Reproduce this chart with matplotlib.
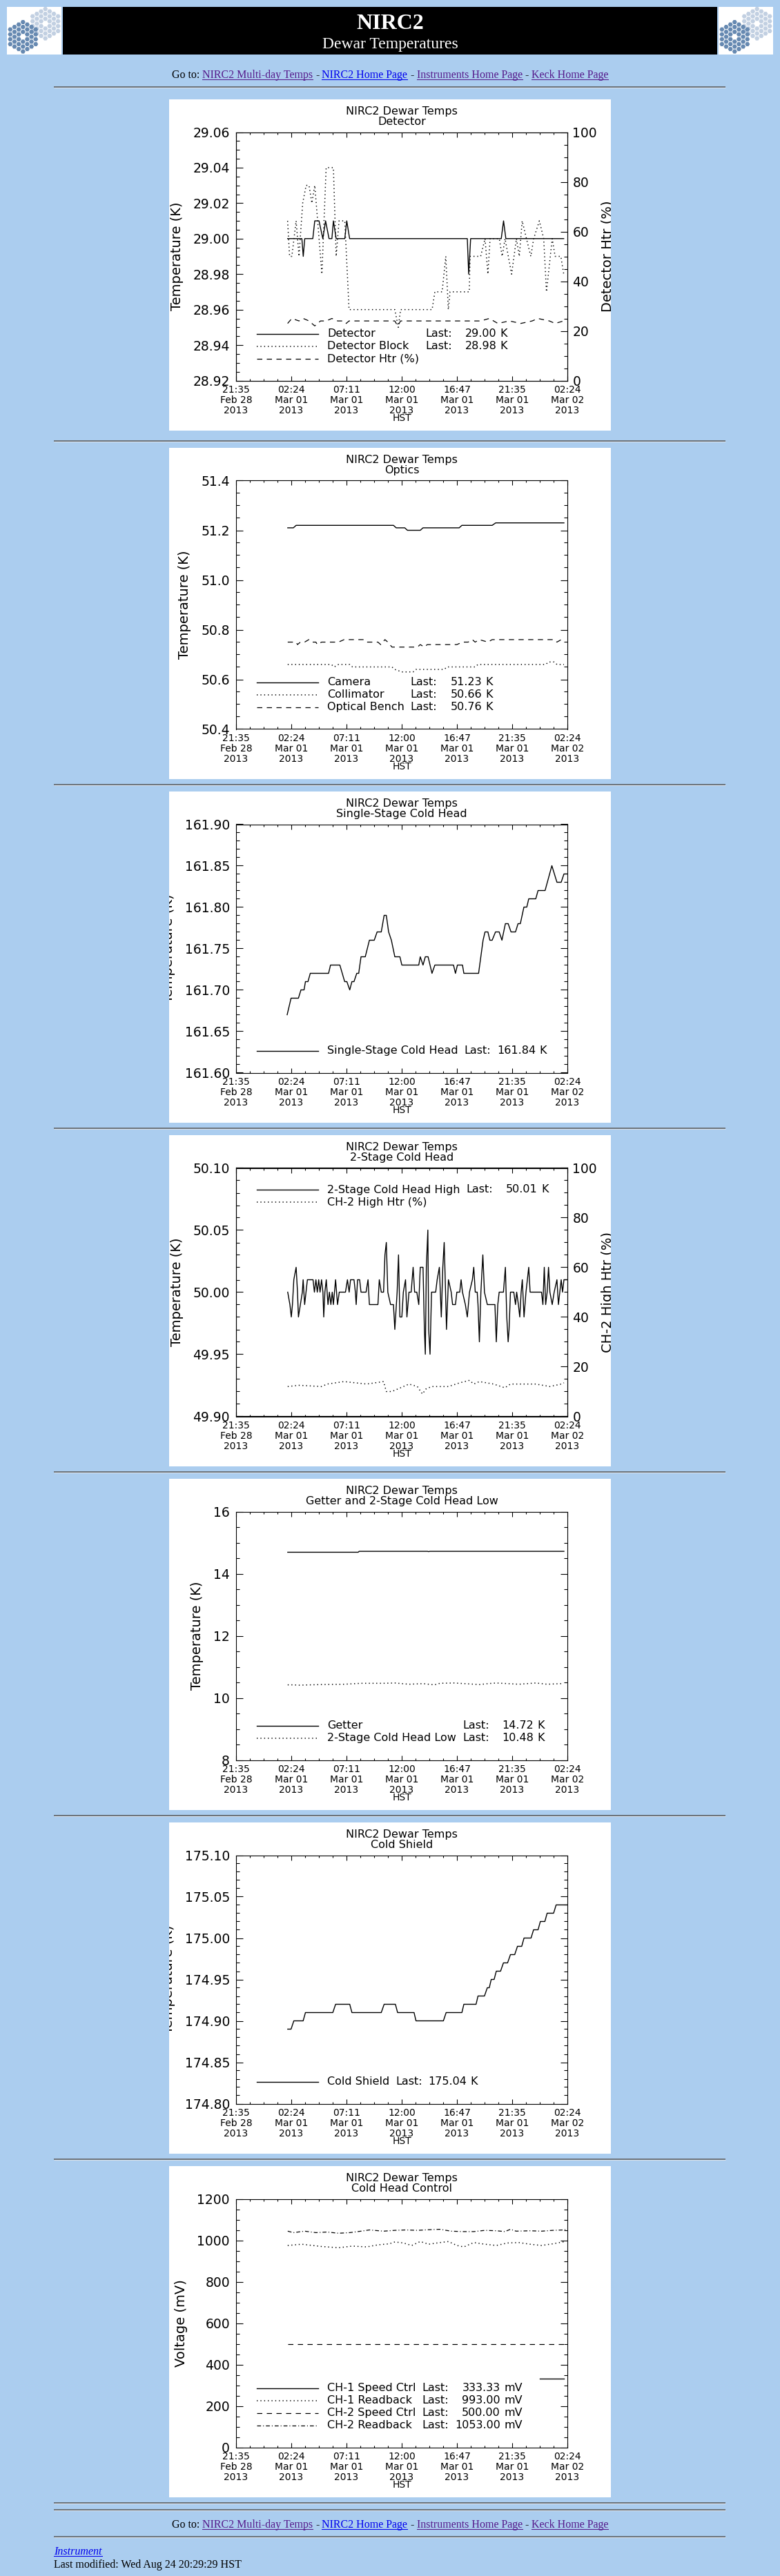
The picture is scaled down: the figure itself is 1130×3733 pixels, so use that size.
import numpy as np
import matplotlib
matplotlib.use("Agg")
import matplotlib.pyplot as plt
from matplotlib.patches import Rectangle, RegularPolygon
from matplotlib.ticker import MultipleLocator, FormatStrFormatter
from matplotlib.transforms import Bbox

W, H = 1130, 3733
PAGE_BLUE = "#ABCDEF"
LINK = "#0000EE"
VISITED = "#551A8B"
SERIF = "Liberation Serif"

plt.rcParams["font.family"] = "DejaVu Sans"

# shared time axis, hours after Feb 28 21:35 HST
x_ticks = [0, 4.8, 9.6, 14.4, 19.2, 24.0, 28.8]
x_tick_labels = ["21:35\nFeb 28\n2013", "02:24\nMar 01\n2013", "07:11\nMar 01\n2013",
                 "12:00\nMar 01\n2013", "16:47\nMar 01\n2013", "21:35\nMar 01\n2013",
                 "02:24\nMar 02\n2013"]

# --- Detector
det_t = [4.48, 5.72, 5.84, 5.97, 6.67, 6.84, 7.21, 7.54, 7.78, 8.08, 8.33, 8.46,
         8.70, 9.45, 9.62, 9.87, 20.10, 20.22, 20.39, 23.05, 23.25, 23.45, 28.48]
det_v = [29.00, 29.00, 28.99, 29.00, 29.00, 29.01, 29.01, 29.00, 29.01, 29.00, 29.00, 29.01,
         29.00, 29.00, 29.01, 29.00, 29.00, 28.98, 29.00, 29.00, 29.01, 29.00, 29.00]
blk_t = [4.48, 4.65, 4.85, 5.22, 5.47, 5.79, 6.09, 6.34, 6.59, 6.84,
         7.09, 7.46, 7.83, 8.46, 8.70, 8.95, 9.45, 9.82, 13.80, 14.10,
         14.30, 17.04, 17.28, 17.91, 18.23, 18.45, 18.60, 20.27, 20.34, 21.26,
         21.64, 21.89, 22.08, 22.88, 23.13, 23.38, 23.95, 24.37, 24.62, 24.87,
         25.24, 25.62, 25.87, 26.36, 26.74, 26.98, 27.48, 27.73, 28.23, 28.48]
blk_v = [29.01, 28.99, 28.99, 29.01, 28.99, 29.02, 29.03, 29.03, 29.02, 29.03,
         29.01, 28.98, 29.04, 29.04, 28.99, 29.01, 29.01, 28.96, 28.96, 28.95,
         28.96, 28.96, 28.97, 28.97, 28.99, 28.96, 28.97, 28.97, 28.99, 28.99,
         29.00, 28.98, 29.00, 29.00, 28.99, 29.00, 28.98, 29.00, 28.99, 29.01,
         29.00, 28.99, 29.00, 29.01, 29.00, 28.97, 29.00, 28.99, 28.99, 28.98]
dhtr_t = [4.48, 4.85, 5.47, 5.84, 6.34, 6.84, 7.34, 7.83, 8.33, 8.83, 9.33, 9.57, 9.82,
          13.80, 14.05, 14.30, 21.26, 22.01, 22.76, 23.75, 24.75, 25.74, 26.23, 27.23,
          27.73, 28.48]
dhtr_v = [23, 25, 24, 25, 24, 22, 24, 24, 25, 24, 24, 23, 24,
          24, 22, 24, 24, 25, 23, 24, 23, 24, 25, 24, 23, 24]

# --- Optics
cam_t = [4.49, 4.98, 5.22, 13.68, 13.92, 14.66, 14.90, 16.01, 16.25, 19.39, 19.63,
         22.26, 22.57, 28.50]
cam_v = [51.21, 51.21, 51.22, 51.22, 51.21, 51.21, 51.20, 51.20, 51.21, 51.21, 51.22,
         51.22, 51.23, 51.23]
col_t = [4.49, 8.28, 8.53, 8.90, 9.88, 10.12, 13.55, 13.80, 14.41, 15.39, 15.64, 18.09,
         18.33, 20.78, 21.03, 26.91, 27.16, 27.65, 27.89, 28.50]
col_v = [50.66, 50.66, 50.65, 50.66, 50.66, 50.65, 50.65, 50.64, 50.63, 50.63, 50.64, 50.64,
         50.65, 50.65, 50.66, 50.66, 50.67, 50.67, 50.66, 50.66]
ob_t = [4.49, 5.22, 5.34, 5.59, 5.96, 6.32, 6.57, 6.94, 7.06, 7.43, 8.65, 8.90,
        9.39, 11.10, 11.35, 12.33, 12.57, 12.94, 13.19, 13.55, 15.76, 16.01, 16.37, 16.62,
        19.19, 19.68, 20.17, 20.54, 20.78, 21.15, 21.89, 22.26, 27.65, 27.89, 28.26, 28.50]
ob_v = [50.75, 50.75, 50.74, 50.75, 50.75, 50.76, 50.75, 50.75, 50.74, 50.75, 50.75, 50.75,
        50.76, 50.76, 50.75, 50.75, 50.74, 50.76, 50.75, 50.73, 50.73, 50.74, 50.73, 50.74,
        50.74, 50.75, 50.75, 50.76, 50.75, 50.76, 50.75, 50.76, 50.76, 50.75, 50.76, 50.76]

# --- Single-stage cold head
ss_t = [4.44, 4.78, 5.42, 5.64, 5.91, 6.03, 6.25, 6.45, 8.04, 8.21,
        9.02, 9.44, 9.63, 9.88, 10.07, 10.25, 10.49, 10.66, 10.86, 11.23,
        11.59, 12.01, 12.26, 12.62, 12.87, 13.06, 13.26, 13.50, 13.80, 14.24,
        14.41, 15.88, 16.01, 16.25, 16.45, 16.69, 17.03, 17.28, 18.90, 19.07,
        19.24, 19.68, 19.80, 21.08, 21.47, 21.64, 21.89, 22.06, 22.26, 22.55,
        22.87, 23.11, 23.41, 23.65, 23.90, 24.29, 24.51, 24.71, 25.02, 25.27,
        25.44, 26.05, 26.25, 26.86, 27.45, 27.89, 28.26, 28.50, 28.75]
ss_v = [161.67, 161.69, 161.69, 161.70, 161.70, 161.71, 161.71, 161.72, 161.72, 161.73,
        161.73, 161.71, 161.71, 161.70, 161.71, 161.71, 161.72, 161.72, 161.74, 161.74,
        161.76, 161.76, 161.77, 161.77, 161.79, 161.79, 161.77, 161.76, 161.74, 161.74,
        161.73, 161.73, 161.74, 161.73, 161.74, 161.74, 161.72, 161.73, 161.73, 161.72,
        161.73, 161.73, 161.72, 161.72, 161.76, 161.77, 161.77, 161.76, 161.76, 161.77,
        161.77, 161.76, 161.78, 161.78, 161.77, 161.77, 161.78, 161.78, 161.80, 161.80,
        161.81, 161.81, 161.82, 161.82, 161.85, 161.83, 161.83, 161.84, 161.84]

# --- 2-stage cold head (high)
ch2_t = [4.49, 4.68, 4.80, 4.90, 5.02, 5.22, 5.34, 5.42, 5.59, 5.76,
         5.83, 5.96, 6.08, 6.20, 6.69, 6.81, 6.94, 7.06, 7.18, 7.30,
         7.43, 7.55, 7.62, 7.72, 7.84, 7.99, 8.11, 8.24, 8.36, 8.46,
         8.65, 8.82, 8.97, 9.51, 9.68, 9.83, 9.95, 10.25, 10.37, 10.44,
         10.56, 10.74, 10.86, 11.30, 11.47, 11.59, 12.33, 12.45, 12.62, 12.82,
         12.94, 13.06, 13.19, 13.43, 13.68, 13.80, 14.00, 14.12, 14.24, 14.41,
         14.54, 14.73, 14.85, 15.03, 15.22, 15.39, 15.52, 15.71, 15.88, 16.01,
         16.25, 16.37, 16.45, 16.54, 16.67, 16.74, 16.86, 16.99, 17.35, 17.48,
         17.67, 17.84, 17.97, 18.09, 18.21, 18.29, 18.46, 18.70, 18.82, 19.07,
         19.19, 19.44, 19.56, 19.68, 19.93, 20.10, 20.29, 20.54, 20.66, 20.79,
         20.96, 21.03, 21.15, 21.28, 21.45, 21.59, 21.84, 22.50, 22.62, 22.75,
         22.87, 23.24, 23.41, 23.53, 23.65, 23.73, 23.85, 24.14, 24.29, 24.39,
         24.54, 24.66, 24.78, 24.88, 25.03, 25.20, 25.32, 25.44, 25.56, 25.81,
         26.55, 26.67, 26.79, 26.91, 27.04, 27.16, 27.28, 27.48, 27.65, 27.89,
         28.02, 28.14, 28.26, 28.38, 28.50, 28.75]
ch2_v = [50.00, 49.99, 49.98, 49.99, 50.01, 50.02, 50.00, 49.98, 49.99, 50.00,
         50.01, 49.99, 50.00, 50.01, 50.01, 50.00, 50.01, 50.00, 50.01, 50.00,
         50.01, 50.00, 49.98, 50.00, 50.01, 49.99, 50.00, 49.99, 50.00, 49.99,
         50.01, 49.99, 50.00, 50.00, 50.01, 50.00, 50.01, 50.01, 50.00, 49.99,
         50.01, 50.01, 50.00, 50.00, 50.01, 49.99, 49.99, 50.01, 50.00, 50.00,
         50.03, 50.04, 50.00, 49.99, 49.99, 49.97, 50.00, 50.03, 49.98, 49.98,
         50.00, 50.01, 49.98, 50.00, 50.00, 50.02, 50.00, 50.00, 49.99, 50.02,
         50.02, 49.97, 49.95, 50.02, 50.05, 49.97, 49.95, 50.00, 50.00, 50.01,
         50.02, 49.98, 50.02, 50.04, 50.00, 49.97, 50.01, 50.00, 49.99, 49.99,
         50.00, 50.00, 50.01, 50.00, 49.99, 49.98, 50.00, 50.01, 50.02, 50.00,
         50.00, 49.99, 49.96, 50.00, 50.03, 50.00, 49.99, 49.99, 49.96, 49.99,
         50.00, 50.00, 50.02, 49.98, 49.96, 49.97, 50.00, 50.00, 49.99, 50.00,
         49.99, 49.98, 50.00, 50.01, 49.98, 50.00, 50.01, 50.02, 50.00, 50.00,
         50.00, 49.99, 50.02, 49.99, 50.00, 50.02, 50.00, 49.99, 50.00, 50.01,
         49.99, 50.00, 50.01, 50.00, 50.01, 50.01]
h2_t = [4.49, 5.47, 7.43, 7.92, 9.39, 10.37, 11.35, 12.82, 13.06, 13.55, 14.54, 15.03,
        15.76, 16.20, 16.50, 16.99, 18.46, 19.44, 20.29, 20.66, 21.15, 22.38, 23.36,
        23.85, 25.07, 26.05, 27.28, 28.26, 28.50]
h2_v = [12, 12.5, 12, 13, 14, 13.5, 13, 14, 10, 10, 12, 13,
        12, 9, 11, 12, 12, 13.5, 14.5, 13, 14, 13, 11.5,
        13, 13, 13, 12, 13, 13.5]

# --- Getter and 2-stage cold head low
get_t = [4.49, 10.61, 10.70, 16.64, 16.74, 16.84, 28.50]
get_v = [14.69, 14.69, 14.72, 14.72, 14.71, 14.72, 14.72]
low_t = [4.49, 4.98, 5.47, 7.43, 9.39, 10.86, 12.82, 13.80, 15.03, 16.25,
         17.23, 17.72, 18.95, 21.15, 21.89, 22.62, 24.58, 26.05, 27.04, 28.26]
low_v = [10.42, 10.42, 10.41, 10.43, 10.44, 10.47, 10.47, 10.48, 10.44, 10.46,
         10.42, 10.47, 10.48, 10.43, 10.46, 10.48, 10.44, 10.48, 10.44, 10.46]

# --- Cold shield
cs_t = [4.49, 4.78, 5.02, 5.83, 6.03, 8.41, 8.65, 9.88, 10.07, 12.62, 12.87, 13.85,
        14.04, 15.47, 15.64, 18.02, 18.26, 19.63, 19.80, 20.86, 21.03, 21.59, 21.84,
        22.01, 22.18, 22.43, 22.62, 22.99, 23.24, 23.60, 23.85, 24.22, 24.46, 24.83,
        25.03, 25.64, 25.86, 26.25, 26.45, 26.84, 27.04, 27.60, 27.82, 28.75]
cs_v = [174.89, 174.89, 174.90, 174.90, 174.91, 174.91, 174.92, 174.92, 174.91, 174.91,
        174.92, 174.92, 174.91, 174.91, 174.90, 174.90, 174.91, 174.91, 174.92, 174.92,
        174.93, 174.93, 174.94, 174.94, 174.95, 174.95, 174.96, 174.96, 174.97, 174.97,
        174.98, 174.98, 174.99, 174.99, 175.00, 175.00, 175.01, 175.01, 175.02, 175.02,
        175.03, 175.03, 175.04, 175.04]

# --- Cold head control (mV)
s1_t = [26.42, 28.50]
s1_v = [333.33, 333.33]
r1_t = [4.49, 5.71, 7.43, 8.90, 10.12, 11.35, 12.33, 13.31, 13.80, 14.54, 15.27, 16.01,
        16.74, 17.72, 18.46, 19.19, 19.80, 20.66, 21.64, 22.62, 23.60, 24.58, 25.56,
        26.55, 27.53, 28.50]
r1_v = [975, 981, 970, 964, 972, 968, 978, 983, 992, 987, 975, 994,
        981, 989, 994, 975, 968, 989, 981, 975, 987, 989, 981,
        975, 983, 993]
s2_t = [4.49, 28.75]
s2_v = [500, 500]
r2_t = [4.49, 4.98, 5.96, 6.94, 7.92, 8.90, 9.88, 10.86, 11.59, 12.82, 13.80, 14.78,
        15.76, 16.74, 17.72, 18.70, 19.68, 20.66, 21.64, 22.62, 23.36, 23.85, 24.34,
        25.56, 26.55, 27.53, 28.50, 28.75]
r2_v = [1044, 1037, 1044, 1037, 1040, 1034, 1037, 1044, 1050, 1044, 1048, 1050,
        1048, 1051, 1053, 1044, 1042, 1042, 1048, 1046, 1042, 1053, 1044,
        1046, 1044, 1048, 1050, 1053]

STYLE = {
    "solid": dict(linestyle="-", linewidth=1.0),
    "dotted": dict(linestyle=(0, (0.9, 2.6)), linewidth=1.1),
    "dashed": dict(linestyle=(0, (6.0, 5.2)), linewidth=0.9),
    "dashdot": dict(linestyle=(0, (4.5, 2.4, 0.9, 2.4)), linewidth=0.9),
}

PANEL_LEFT, PANEL_W, PANEL_H = 245, 640, 480
PX0, PX1, PY0, PY1 = 97, 577, 47.5, 407.5
CX = PANEL_LEFT + (PX0 + PX1) / 2
LEG_FS = 11.5

fig = plt.figure(figsize=(W / 100, H / 100), dpi=100)
fig.patch.set_facecolor(PAGE_BLUE)
page = fig.add_axes([0, 0, 1, 1])
page.set_xlim(0, W)
page.set_ylim(H, 0)
page.axis("off")
renderer = fig.canvas.get_renderer()


def text_width(s, **kw):
    t = page.text(0, 0, s, **kw)
    w = t.get_window_extent(renderer).width
    t.remove()
    return w


def draw_logo(x0, y0):
    page.add_patch(Rectangle((x0, y0), 79, 69, fc="white", ec="none"))
    box = Rectangle((x0, y0), 79, 69, fc="none", ec="none", transform=page.transData)
    s = 4.1
    for cx, cy, col in [(x0 + 55.7, y0 + 24.3, "#C2D0E2"), (x0 + 23.3, y0 + 43.3, "#6689B1")]:
        for q in range(-3, 4):
            for r in range(-3, 4):
                d = max(abs(q), abs(r), abs(q + r))
                if d == 0 or d > 3:
                    continue
                hx = cx + s * 1.5 * q
                hy = cy + s * np.sqrt(3) * (r + q / 2)
                p = RegularPolygon((hx, hy), 6, radius=s * 0.85, orientation=np.pi / 6,
                                   fc=col, ec="none")
                page.add_patch(p)
                p.set_clip_path(box)


def hr(y):
    page.plot([78, 1051], [y, y], color="#5a5a5a", lw=1.1, solid_capstyle="butt")
    page.plot([78, 1051], [y + 1.3, y + 1.3], color="#dfe6ee", lw=0.7, solid_capstyle="butt")


def goto_line(y_base):
    runs = [("Go to:", "black", False), ("NIRC2 Multi-day Temps", VISITED, True),
            ("-", "black", False), ("NIRC2 Home Page", LINK, True),
            ("-", "black", False), ("Instruments Home Page", VISITED, True),
            ("-", "black", False), ("Keck Home Page", VISITED, True)]
    kw = dict(fontsize=11.5, family=SERIF)
    sp = text_width("a a", **kw) - text_width("aa", **kw)
    widths = [text_width(s, **kw) for s, _, _ in runs]
    x = 565 - (sum(widths) + sp * (len(runs) - 1)) / 2
    for (s, c, u), w in zip(runs, widths):
        page.text(x, y_base, s, color=c, ha="left", va="baseline", **kw)
        if u:
            page.plot([x, x + w], [y_base + 2, y_base + 2], color=c, lw=0.75)
        x += w + sp


def draw_panel(top, subtitle, ylim, ystep, yminor, yfmt, ylabel, series, legend,
               digits="000.00", unit="K", legend_top=False, right_label=None,
               right_series=()):
    page.add_patch(Rectangle((PANEL_LEFT, top), PANEL_W, PANEL_H, fc="white", ec="none"))
    clip = Bbox.from_extents(PANEL_LEFT, H - top - PANEL_H, PANEL_LEFT + PANEL_W, H - top)
    ax = fig.add_axes([(PANEL_LEFT + PX0) / W, 1 - (top + PY1) / H,
                       (PX1 - PX0) / W, (PY1 - PY0) / H])
    ax.set_facecolor("none")
    for t, v, st in series:
        ax.plot(t, v, color="black", **STYLE[st])
    ax.set_xlim(0, 28.8)
    ax.set_ylim(*ylim)
    ax.set_xticks(x_ticks)
    ax.set_xticklabels(x_tick_labels)
    ax.xaxis.set_minor_locator(MultipleLocator(1.2))
    ax.yaxis.set_major_locator(MultipleLocator(ystep))
    ax.yaxis.set_minor_locator(MultipleLocator(yminor))
    ax.yaxis.set_major_formatter(FormatStrFormatter(yfmt))
    ax.tick_params(which="both", direction="in", top=True, right=right_label is None)
    ax.tick_params(axis="x", which="major", length=5, width=0.8, pad=4.5, labelsize=10)
    ax.tick_params(axis="x", which="minor", length=2.5, width=0.8)
    ax.tick_params(axis="y", which="major", length=7, width=0.8, pad=6.5, labelsize=13.5)
    ax.tick_params(axis="y", which="minor", length=3.5, width=0.8)
    for lab in ax.get_xticklabels():
        lab.set_linespacing(1.1)
    for sp in ax.spines.values():
        sp.set_linewidth(0.8)
    ax.set_ylabel(ylabel, fontsize=14, labelpad=10)
    ax.yaxis.label.set_clip_box(clip)

    if right_label:
        ax2 = ax.twinx()
        for t, v, st in right_series:
            ax2.plot(t, v, color="black", **STYLE[st])
        ax2.set_ylim(0, 100)
        ax2.yaxis.set_major_locator(MultipleLocator(20))
        ax2.yaxis.set_minor_locator(MultipleLocator(5))
        ax2.tick_params(which="both", direction="in")
        ax2.tick_params(which="major", length=7, width=0.8, pad=5.3, labelsize=13.5)
        ax2.tick_params(which="minor", length=3.5, width=0.8)
        for sp in ax2.spines.values():
            sp.set_linewidth(0.8)
        ax2.set_ylabel(right_label, fontsize=14, labelpad=4)
        ax2.yaxis.label.set_clip_box(clip)

    page.text(CX, top + 17.3, "NIRC2 Dewar Temps", ha="center", va="center", fontsize=11.5)
    page.text(CX, top + 32.3, subtitle, ha="center", va="center", fontsize=11.5)
    page.text(CX, top + 461.7, "HST", ha="center", va="center", fontsize=10)

    n = len(legend)
    if legend_top:
        ys = [top + 79 + 18 * i for i in range(n)]
    else:
        ys = [top + 375.7 - 18 * (n - 1 - i) for i in range(n)]
    xl0, xl1, xt = PANEL_LEFT + 126.5, PANEL_LEFT + 216, PANEL_LEFT + 229
    name_w = max(text_width(nm, fontsize=LEG_FS) for _, nm, _ in legend)
    x_last = xt + name_w + 9
    w_last = text_width("Last:", fontsize=LEG_FS)
    x_num = x_last + w_last + 9 + text_width(digits, fontsize=LEG_FS)
    sp_w = text_width("0 K", fontsize=LEG_FS) - text_width("0K", fontsize=LEG_FS)
    for (st, nm, last), y in zip(legend, ys):
        page.plot([xl0, xl1], [y, y], color="black", **STYLE[st])
        page.text(xt, y, nm, fontsize=LEG_FS, va="center")
        if last is not None:
            page.text(x_last, y, "Last:", fontsize=LEG_FS, va="center")
            page.text(x_num, y, "%.2f" % last, fontsize=LEG_FS, va="center", ha="right")
            page.text(x_num + sp_w, y, unit, fontsize=LEG_FS, va="center")


# header
draw_logo(10, 10)
draw_logo(1041, 10)
page.add_patch(Rectangle((91, 10), 948, 69, fc="black", ec="none"))
page.text(565, 42, "NIRC2", color="white", fontsize=23, fontweight="bold", family=SERIF,
          ha="center", va="baseline")
page.text(565, 70, "Dewar Temperatures", color="white", fontsize=17, family=SERIF,
          ha="center", va="baseline")
goto_line(113)
for y in [126, 639, 1137, 1635, 2133, 2631, 3129, 3627, 3637, 3676]:
    hr(y)

tops = [144, 649, 1147, 1645, 2143, 2641, 3139]

draw_panel(tops[0], "Detector", (28.92, 29.06), 0.02, 0.005, "%.2f", "Temperature (K)",
           [(blk_t, blk_v, "dotted"), (det_t, det_v, "solid")],
           [("solid", "Detector", det_v[-1]), ("dotted", "Detector Block", blk_v[-1]),
            ("dashed", "Detector Htr (%)", None)],
           right_label="Detector Htr (%)", right_series=[(dhtr_t, dhtr_v, "dashed")])

draw_panel(tops[1], "Optics", (50.4, 51.4), 0.2, 0.05, "%.1f", "Temperature (K)",
           [(cam_t, cam_v, "solid"), (col_t, col_v, "dotted"), (ob_t, ob_v, "dashed")],
           [("solid", "Camera", cam_v[-1]), ("dotted", "Collimator", col_v[-1]),
            ("dashed", "Optical Bench", ob_v[-1])])

draw_panel(tops[2], "Single-Stage Cold Head", (161.60, 161.90), 0.05, 0.01, "%.2f",
           "Temperature (K)", [(ss_t, ss_v, "solid")],
           [("solid", "Single-Stage Cold Head", ss_v[-1])])

draw_panel(tops[3], "2-Stage Cold Head", (49.90, 50.10), 0.05, 0.01, "%.2f",
           "Temperature (K)", [(ch2_t, ch2_v, "solid")],
           [("solid", "2-Stage Cold Head High", ch2_v[-1]),
            ("dotted", "CH-2 High Htr (%)", None)],
           legend_top=True, right_label="CH-2 High Htr (%)",
           right_series=[(h2_t, h2_v, "dotted")])

draw_panel(tops[4], "Getter and 2-Stage Cold Head Low", (8, 16), 2, 0.5, "%d",
           "Temperature (K)", [(get_t, get_v, "solid"), (low_t, low_v, "dotted")],
           [("solid", "Getter", 14.72), ("dotted", "2-Stage Cold Head Low", 10.48)])

draw_panel(tops[5], "Cold Shield", (174.80, 175.10), 0.05, 0.01, "%.2f", "Temperature (K)",
           [(cs_t, cs_v, "solid")], [("solid", "Cold Shield", cs_v[-1])])

draw_panel(tops[6], "Cold Head Control", (0, 1200), 200, 50, "%d", "Voltage (mV)",
           [(s1_t, s1_v, "solid"), (r1_t, r1_v, "dotted"), (s2_t, s2_v, "dashed"),
            (r2_t, r2_v, "dashdot")],
           [("solid", "CH-1 Speed Ctrl", s1_v[-1]), ("dotted", "CH-1 Readback", r1_v[-1]),
            ("dashed", "CH-2 Speed Ctrl", s2_v[-1]), ("dashdot", "CH-2 Readback", r2_v[-1])],
           digits="0000.00", unit="mV")

# footer
goto_line(3663)
page.text(78, 3702, "Instrument", color=LINK, fontsize=11.5, style="italic",
          family=SERIF, va="baseline")
w_inst = text_width("Instrument", fontsize=11.5, style="italic", family=SERIF)
page.plot([78, 78 + w_inst], [3704, 3704], color=LINK, lw=0.75)
page.text(78, 3721, "Last modified: Wed Aug 24 20:29:29 HST", color="black", fontsize=11.5,
          family=SERIF, va="baseline")

fig.savefig("out.png", dpi=100, facecolor=PAGE_BLUE)
